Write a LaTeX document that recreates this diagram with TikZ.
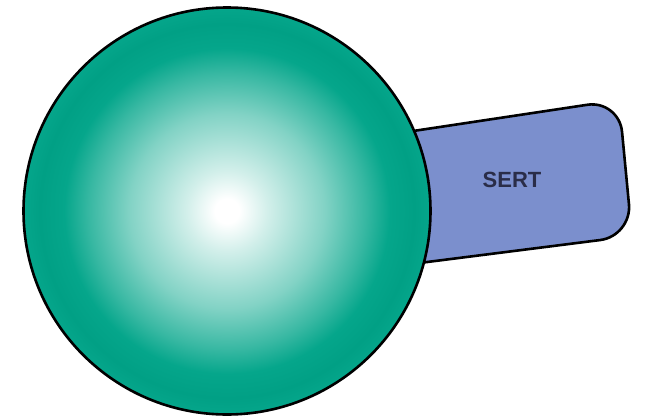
\documentclass[tikz,border=0pt]{standalone}
\usepackage{fontspec}
\setmainfont{Liberation Sans}
\definecolor{ballteal}{HTML}{05A68B}
\definecolor{balldark}{HTML}{01A085}
\definecolor{tabblue}{HTML}{7B8FCD}
\definecolor{labelnavy}{HTML}{2A2D48}
% 25bp is the rim of the ball
\pgfdeclareradialshading{ballshade}{\pgfpoint{0bp}{0bp}}{%
  color(0bp)=(white);
  color(1.5bp)=(white);
  color(5bp)=(ballteal!18!white);
  color(12bp)=(ballteal!50!white);
  color(17bp)=(ballteal!80!white);
  color(20bp)=(ballteal);
  color(23bp)=(balldark);
  color(25bp)=(ballteal);
  color(50bp)=(ballteal)}
\tikzset{
  outline/.style={draw=black, line width=2.6pt, line join=round},
  labeltext/.style={font=\bfseries\fontsize{22}{26}\selectfont, text=labelnavy}
}
\begin{document}
\begin{tikzpicture}[x=1pt, y=-1pt]
    % frame of the picture
    \useasboundingbox (0,0) rectangle (646,418);

    % the tab behind the ball
    \draw[outline, fill=tabblue, rounded corners=32pt]
        (380,136) -- (619,100) -- (632,236) [sharp corners] -- (380,268);
    \node[labeltext] (sert) at (512,180) {SERT};

    % the ball
    \node[circle, outline, shading=ballshade, minimum size=407pt, inner sep=0pt]
        (ball) at (227,211) {};
\end{tikzpicture}
\end{document}
